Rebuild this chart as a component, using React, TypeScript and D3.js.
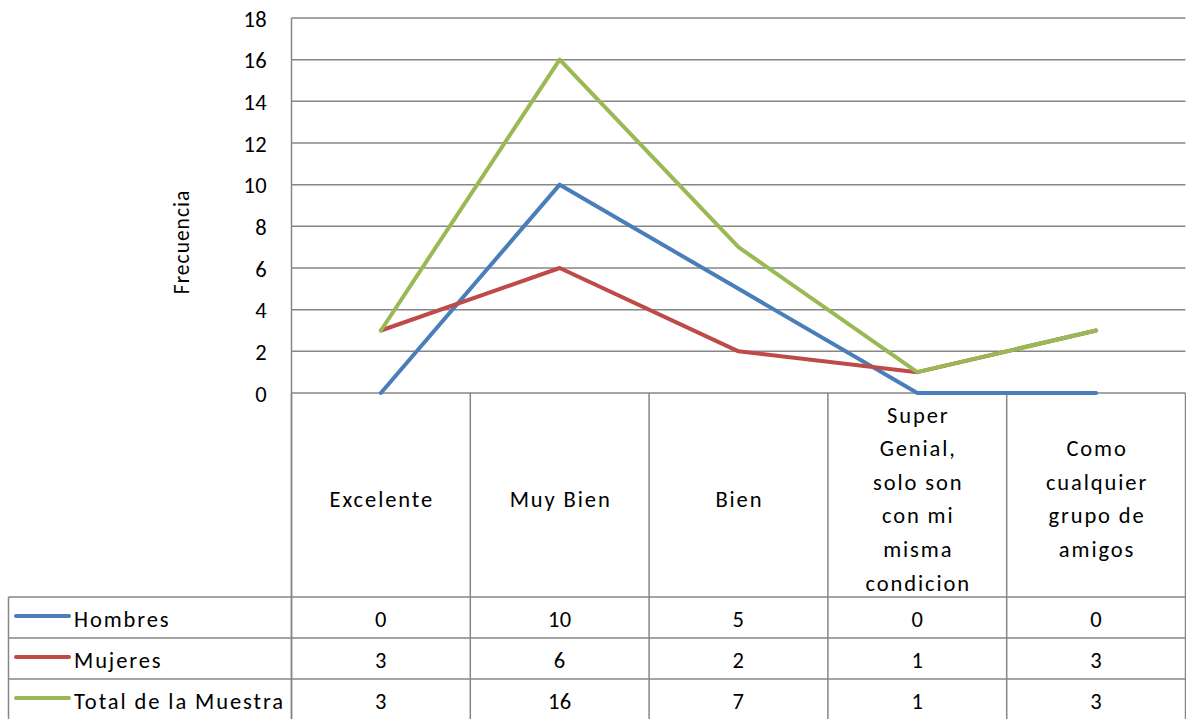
import React from "react";
import * as d3 from "d3";

const categories: string[][] = [
  ["Excelente"],
  ["Muy Bien"],
  ["Bien"],
  ["Super", "Genial,", "solo son", "con mi", "misma", "condicion"],
  ["Como", "cualquier", "grupo de", "amigos"],
];
const seriesNames = ["Hombres", "Mujeres", "Total de la Muestra"];
const hombres = [0, 10, 5, 0, 0];
const mujeres = [3, 6, 2, 1, 3];
const total = [3, 16, 7, 1, 3];
const seriesColors = ["#4a7ebb", "#be4b48", "#98b954"];
const yTicks = [0, 2, 4, 6, 8, 10, 12, 14, 16, 18];
const yTitle = "Frecuencia";

const W = 1186;
const H = 719;
const plotLeft = 291.5;
const plotRight = 1185.5;
const plotTop = 18;
const plotBottom = 393;
const headerBottom = 597;
const rowH = 41;
const tableLeft = 8.5;
const FONT = "Carlito, Calibri, Lato, 'Open Sans', sans-serif";
const grid = "#868686";
const FS = 22.5;
const LS = 1.9;

export default function App() {
  const series = [hombres, mujeres, total];
  const x = d3
    .scaleBand<number>()
    .domain(categories.map((_, i) => i))
    .range([plotLeft, plotRight])
    .padding(0);
  const y = d3.scaleLinear().domain([0, 18]).range([plotBottom, plotTop]);
  const cx = (i: number) => (x(i) as number) + x.bandwidth() / 2;
  const line = d3
    .line<number>()
    .x((_, i) => cx(i))
    .y((d) => y(d));

  const rowTops = seriesNames.map((_, i) => headerBottom + i * rowH);
  const colEdges = categories.map((_, i) => x(i) as number).concat([plotRight]);

  return (
    <svg
      width={W}
      height={H}
      style={{ position: "absolute", left: 0, top: 0, fontFamily: FONT }}
    >
      <rect width={W} height={H} fill="#fff" />
      {yTicks.map((t) => (
        <line
          key={t}
          x1={plotLeft}
          x2={plotRight}
          y1={y(t)}
          y2={y(t)}
          stroke={grid}
          strokeWidth={1.5}
        />
      ))}
      <line x1={plotLeft} x2={plotLeft} y1={plotTop} y2={H} stroke={grid} strokeWidth={1.5} />
      {yTicks.map((t) => (
        <text
          key={t}
          x={267}
          y={y(t) + 1}
          textAnchor="end"
          dominantBaseline="central"
          fontSize={FS}
          fill="#000"
          letterSpacing={0.4}
        >
          {t}
        </text>
      ))}
      <text
        transform={`translate(189,${242}) rotate(-90)`}
        textAnchor="middle"
        fontSize={21.5}
        fill="#000"
        letterSpacing={1}
      >
        {yTitle}
      </text>
      {colEdges.map((e, i) => (
        <line key={i} x1={e} x2={e} y1={plotBottom} y2={H} stroke={grid} strokeWidth={1.5} />
      ))}
      <line x1={tableLeft} x2={tableLeft} y1={headerBottom} y2={H} stroke={grid} strokeWidth={1.5} />
      {rowTops.map((r, i) => (
        <line key={i} x1={tableLeft} x2={plotRight} y1={r} y2={r} stroke={grid} strokeWidth={1.5} />
      ))}
      {categories.map((lines, i) => {
        const lh = 33.6;
        const center = 499;
        const start = center - ((lines.length - 1) * lh) / 2;
        return (
          <text key={i} textAnchor="middle" fontSize={FS} fill="#000" letterSpacing={LS}>
            {lines.map((l, j) => (
              <tspan key={j} x={cx(i) + LS / 2} y={start + j * lh} dominantBaseline="central">
                {l}
              </tspan>
            ))}
          </text>
        );
      })}
      {seriesNames.map((name, si) => {
        const mid = rowTops[si] + rowH / 2 + 1.5;
        return (
          <g key={name}>
            <line
              x1={16}
              x2={69}
              y1={mid - 3}
              y2={mid - 3}
              stroke={seriesColors[si]}
              strokeWidth={4}
              strokeLinecap="round"
            />
            <text x={74} y={mid} dominantBaseline="central" fontSize={FS} fill="#000" letterSpacing={LS}>
              {name}
            </text>
            {series[si].map((v, i) => (
              <text
                key={i}
                x={cx(i)}
                y={mid}
                textAnchor="middle"
                dominantBaseline="central"
                fontSize={FS}
                fill="#000"
                letterSpacing={0.4}
              >
                {v}
              </text>
            ))}
          </g>
        );
      })}
      {series.map((s, si) => (
        <path
          key={si}
          d={line(s) || ""}
          fill="none"
          stroke={seriesColors[si]}
          strokeWidth={4}
          strokeLinejoin="round"
          strokeLinecap="round"
        />
      ))}
    </svg>
  );
}
